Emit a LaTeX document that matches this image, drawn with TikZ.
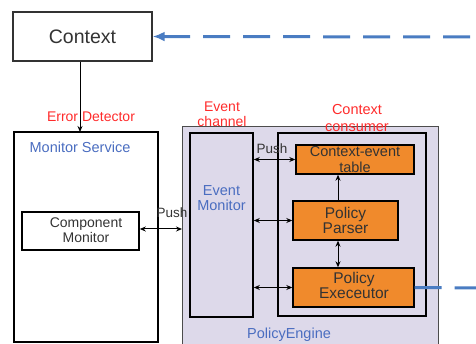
\documentclass[tikz,border=0pt]{standalone}
\usepackage{fontspec}
\setmainfont{Liberation Sans}
\usetikzlibrary{arrows.meta}
\definecolor{engfill}{HTML}{DDD9EA}
\definecolor{orangebox}{HTML}{F08A2C}
\definecolor{linkblue}{HTML}{4A7CC2}
\definecolor{labelblue}{HTML}{4A6DC0}
\definecolor{labelred}{HTML}{FF2B2B}
\definecolor{txtgray}{HTML}{333333}
\begin{document}
\begin{tikzpicture}[x=1pt,y=-1pt,
  frame/.style={draw=black,line width=1.6pt},
  orangenode/.style={draw=black,line width=1.4pt,fill=orangebox},
  plain/.style={text=txtgray,align=center,inner sep=0pt},
  bluetxt/.style={text=labelblue,align=center,inner sep=0pt},
  redtxt/.style={text=labelred,align=center,inner sep=0pt,font=\fontsize{14}{15}\selectfont},
  link/.style={draw=black,line width=1pt,-{Stealth[length=6pt,width=5pt]}},
  dlink/.style={draw=black,line width=1pt,{Stealth[length=6pt,width=5pt]}-{Stealth[length=6pt,width=5pt]}},
  bluedash/.style={draw=linkblue,line width=3pt,dash pattern=on 27pt off 13pt}]
\useasboundingbox (0,0) rectangle (476,344);

% outer engine frame and the context box
\draw[draw=black!70,line width=1pt,fill=engfill] (182,127) -- (182,346) -- (438,346) -- (438,127) -- cycle;
\node[draw=black!80,line width=1.4pt,minimum width=139pt,minimum height=49pt,fill=white] (ctx) at (82.5,36.5) {};
\node[plain,font=\fontsize{19.5}{21}\selectfont] at (ctx) {Context};

% monitor service
\draw[frame] (14,132) rectangle (158,342);
\coordinate (msTop) at (80,132);
\node[draw=black,line width=1.6pt,minimum width=117pt,minimum height=38pt] (cm) at (80.5,231) {};
\node[plain,font=\fontsize{14}{14.5}\selectfont] at (86,230) {Component\\Monitor};
\coordinate (msRight) at (182,229);

% event channel and context consumer
\node[frame,minimum width=63pt,minimum height=184pt] (em) at (221.5,225) {};
\node[frame,minimum width=148pt,minimum height=183pt] (cc) at (352,224.5) {};

\node[orangenode,minimum width=118pt,minimum height=29pt] (tab) at (355,159.5) {};
\node[plain,font=\fontsize{14.5}{16}\selectfont] at (355,160) {Context-event\\table};
\node[orangenode,minimum width=105pt,minimum height=39pt] (par) at (345.5,220.5) {};
\node[plain,font=\fontsize{15.5}{15}\selectfont] at (par) {Policy\\Parser};
\node[orangenode,minimum width=121pt,minimum height=39pt] (exe) at (353.5,287.5) {};
\node[plain,font=\fontsize{15.5}{15}\selectfont] at (354,285) {Policy\\Execeutor};

% labels
\node[redtxt] at (91,117) {Error Detector};
\node[redtxt,font=\fontsize{14}{15}\selectfont] at (222,114.5) {Event\\channel};
\node[redtxt,font=\fontsize{14.5}{17}\selectfont] at (357,118.5) {Context\\consumer};
\node[bluetxt,font=\fontsize{14.5}{16}\selectfont] at (80,147) {Monitor Service};
\node[bluetxt,font=\fontsize{14.5}{15}\selectfont] at (221.5,198.5) {Event\\Monitor};
\node[bluetxt,font=\fontsize{14.5}{16}\selectfont] at (289,335) {PolicyEngine};
\node[plain,font=\fontsize{13.5}{14}\selectfont] at (172,213) {Push};
\node[plain,font=\fontsize{13.5}{14}\selectfont] at (272,149) {Push};

% connectors
\draw[link] (ctx.south -| msTop) -- (msTop);
\draw[dlink] (cm.east |- msRight) -- (msRight);
\draw[dlink] (em.east |- tab.west) -- (tab.west);
\draw[dlink] (em.east |- par.west) -- (par.west);
\draw[dlink] (em.east |- exe.west) -- (exe.west);
\draw[link] (par.north -| 338,0) -- (tab.south -| 338,0);
\draw[dlink] (par.south -| 338,0) -- (exe.north -| 338,0);

% remote links on the right
\coordinate (farTop) at (476,37);
\coordinate (farBot) at (476,288);
\draw[bluedash,dash phase=34pt,-{Latex[length=12pt,width=10pt]}] (farTop) -- (ctx.east);
\draw[bluedash] (exe.east) -- (farBot);
\end{tikzpicture}
\end{document}
